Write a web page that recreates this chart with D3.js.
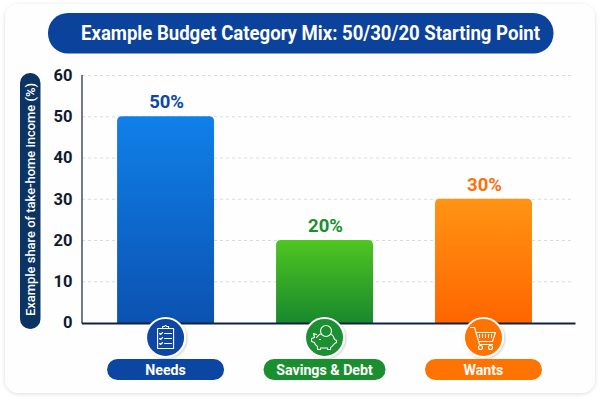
<!DOCTYPE html>
<meta charset="utf-8">
<head>
    <title>Example Budget Category Mix</title>
    <script src="https://cdn.jsdelivr.net/npm/d3@7"></script>
</head>

<style>
    html, body { margin: 0; padding: 0; background: #fff; }
    svg { display: block; }
    text { font-family: Roboto, sans-serif; }
    .grid line { stroke: #d9dbde; stroke-width: 1px; stroke-dasharray: 3 3; }
    .grid path { display: none; }
    .tick-labels path, .tick-labels line { display: none; }
    .tick-labels text { font-size: 16.5px; font-weight: 700; fill: #101b2d; }
    .icon * { fill: none; stroke: #fff; stroke-width: 1.1px; stroke-linecap: round; stroke-linejoin: round; }
</style>

<svg>
    <defs></defs>
</svg>

<script>
    var vWidth = 600;
    var vHeight = 400;

    var categories = ['Needs', 'Savings & Debt', 'Wants'];
    var shares = [50, 20, 30];
    var yTicks = [0, 10, 20, 30, 40, 50, 60];
    var titleText = 'Example Budget Category Mix: 50/30/20 Starting Point';
    var yTitle = 'Example share of take-home income (%)';

    var gradTops = ['#1080e9', '#4fc621', '#ff9413'];
    var gradBottoms = ['#0b52b0', '#18882d', '#ff6500'];
    var pillColors = ['#0b46a3', '#1b8f30', '#ff7300'];
    var labelColors = ['#0b48a5', '#1b8f30', '#ff6f0a'];

    var svg = d3.select('svg').attr('width', vWidth).attr('height', vHeight);
    var defs = svg.select('defs');

    // Soft shadow for the card and the icon badges
    var cardShadow = defs.append('filter').attr('id', 'cardShadow')
        .attr('x', '-5%').attr('y', '-5%').attr('width', '110%').attr('height', '110%');
    cardShadow.append('feDropShadow').attr('dx', 0).attr('dy', 1).attr('stdDeviation', 2)
        .attr('flood-color', '#000').attr('flood-opacity', 0.14);
    var iconShadow = defs.append('filter').attr('id', 'iconShadow')
        .attr('x', '-30%').attr('y', '-30%').attr('width', '160%').attr('height', '160%');
    iconShadow.append('feDropShadow').attr('dx', 1).attr('dy', 1).attr('stdDeviation', 1)
        .attr('flood-color', '#000').attr('flood-opacity', 0.2);

    categories.forEach(function (c, i) {
        var lg = defs.append('linearGradient').attr('id', 'bar' + i)
            .attr('x1', 0).attr('y1', 0).attr('x2', 0).attr('y2', 1);
        lg.append('stop').attr('offset', 0).attr('stop-color', gradTops[i]);
        lg.append('stop').attr('offset', 1).attr('stop-color', gradBottoms[i]);
    });

    // Card
    svg.append('rect').attr('x', 5).attr('y', 4).attr('width', 590).attr('height', 389)
        .attr('rx', 14).attr('fill', '#fefefe').attr('filter', 'url(#cardShadow)');

    // Title pill
    svg.append('rect').attr('x', 48).attr('y', 13).attr('width', 505.5).attr('height', 40.5)
        .attr('rx', 20).attr('fill', '#0b429c');
    svg.append('text').attr('x', 310.5).attr('y', 40).attr('text-anchor', 'middle')
        .attr('font-size', 19.4).attr('font-weight', 700).attr('fill', '#fff')
        .attr('textLength', 459).attr('lengthAdjust', 'spacingAndGlyphs').text(titleText);

    // Y title pill
    svg.append('rect').attr('x', 20).attr('y', 73).attr('width', 20.5).attr('height', 256)
        .attr('rx', 10).attr('fill', '#0c3463');
    svg.append('text').attr('transform', 'translate(34.5,199.5) rotate(-90)')
        .attr('text-anchor', 'middle').attr('font-size', 12.6).attr('font-weight', 500)
        .attr('fill', '#fff').attr('textLength', 233).attr('lengthAdjust', 'spacingAndGlyphs').text(yTitle);

    // Scales
    var y = d3.scaleLinear().domain([0, 60]).range([322.5, 75]);
    var x = d3.scaleBand().domain(categories).range([82, 570])
        .paddingInner(0.39).paddingOuter(0.23).align(0.48);
    var baseline = y(0) + 1;

    // Grid
    svg.append('g').attr('class', 'grid').attr('transform', 'translate(82,0)')
        .call(d3.axisLeft(y).tickValues(yTicks.slice(1)).tickSize(-490).tickFormat(''));

    // Bars with rounded top corners
    var r = 5;
    svg.append('g').selectAll('path').data(categories).enter().append('path')
        .attr('fill', function (d, i) { return 'url(#bar' + i + ')'; })
        .attr('d', function (d, i) {
            var x0 = x(d), x1 = x(d) + x.bandwidth(), top = y(shares[i]);
            return 'M' + x0 + ',' + baseline + 'V' + (top + r) + 'Q' + x0 + ',' + top + ' ' + (x0 + r) + ',' + top
                + 'H' + (x1 - r) + 'Q' + x1 + ',' + top + ' ' + x1 + ',' + (top + r) + 'V' + baseline + 'Z';
        });

    // Value labels
    svg.append('g').selectAll('text').data(categories).enter().append('text')
        .attr('x', function (d) { return x(d) + x.bandwidth() / 2 + 1; })
        .attr('y', function (d, i) { return y(shares[i]) - 8; })
        .attr('text-anchor', 'middle').attr('font-size', 18.5).attr('font-weight', 700)
        .attr('fill', function (d, i) { return labelColors[i]; })
        .text(function (d, i) { return shares[i] + '%'; });

    // Axes
    svg.append('g').attr('class', 'tick-labels').attr('transform', 'translate(72.5,0)')
        .call(d3.axisLeft(y).tickValues(yTicks).tickSize(0).tickPadding(0));
    svg.append('line').attr('x1', 82).attr('x2', 82).attr('y1', y(60)).attr('y2', baseline)
        .attr('stroke', '#12233f').attr('stroke-width', 1.2);
    svg.append('line').attr('x1', 82).attr('x2', 575.5).attr('y1', baseline).attr('y2', baseline)
        .attr('stroke', '#12233f').attr('stroke-width', 1.8);

    // Category badges and pills, the long label gets a slightly wider pill
    function pillWidth(d) { return d.length > 10 ? 122 : 117; }
    var cat = svg.append('g').selectAll('g').data(categories).enter().append('g')
        .attr('transform', function (d) { return 'translate(' + (x(d) + x.bandwidth() / 2) + ',0)'; });
    cat.append('circle').attr('cy', 337.5).attr('r', 19.5)
        .attr('fill', function (d, i) { return pillColors[i]; })
        .attr('stroke', '#fff').attr('stroke-width', 2).attr('filter', 'url(#iconShadow)');
    cat.append('rect').attr('x', function (d) { return -pillWidth(d) / 2; }).attr('y', 359)
        .attr('width', pillWidth).attr('height', 21)
        .attr('rx', 10.5).attr('fill', function (d, i) { return pillColors[i]; });
    cat.append('text').attr('y', 374.7).attr('text-anchor', 'middle')
        .attr('font-size', 14.2).attr('font-weight', 700).attr('fill', '#fff')
        .text(function (d) { return d; });

    // Hand drawn icons, local coordinates around the badge centre
    var icons = cat.append('g').attr('class', 'icon').attr('transform', 'translate(0,337.5)');
    var clip = d3.select(icons.nodes()[0]);
    clip.append('path').attr('d', 'M-8,-9H8V11H-8Z');
    clip.append('path').attr('d', 'M-3,-9V-11H-1Q0,-13 1,-11H3V-9Z');
    [-4, 1, 6].forEach(function (ty) {
        clip.append('path').attr('d', 'M-6,' + ty + 'L-5,' + (ty + 1) + 'L-3,' + (ty - 1));
        clip.append('path').attr('d', 'M-1,' + ty + 'H6');
    });
    var pig = d3.select(icons.nodes()[1]);
    pig.append('circle').attr('cx', 1.5).attr('cy', -6.5).attr('r', 5.5);
    pig.append('path').attr('d', 'M-8,0Q-4,-5 -3,-3M7,-3Q9,-2 10,2L12,3V5L10,6Q8,9 6,10V12H3V10.5H-4V12H-7V9Q-10,7 -10,5L-13,4V1L-10,0L-11,-4L-8,-3');
    pig.append('path').attr('d', 'M-5,2H-4');
    var cart = d3.select(icons.nodes()[2]);
    cart.append('path').attr('d', 'M-13,-10H-9L-4,7H9');
    cart.append('path').attr('d', 'M-7.5,-5H12L9,4H-5');
    cart.append('circle').attr('cx', -3).attr('cy', 10).attr('r', 2);
    cart.append('circle').attr('cx', 7).attr('cy', 10).attr('r', 2);
    cart.append('path').attr('d', 'M-4,-3V0M-1,-3V0M2,-3V0M5,-3V0M8,-3V0').style('stroke-dasharray', '1.2 1');
</script>
